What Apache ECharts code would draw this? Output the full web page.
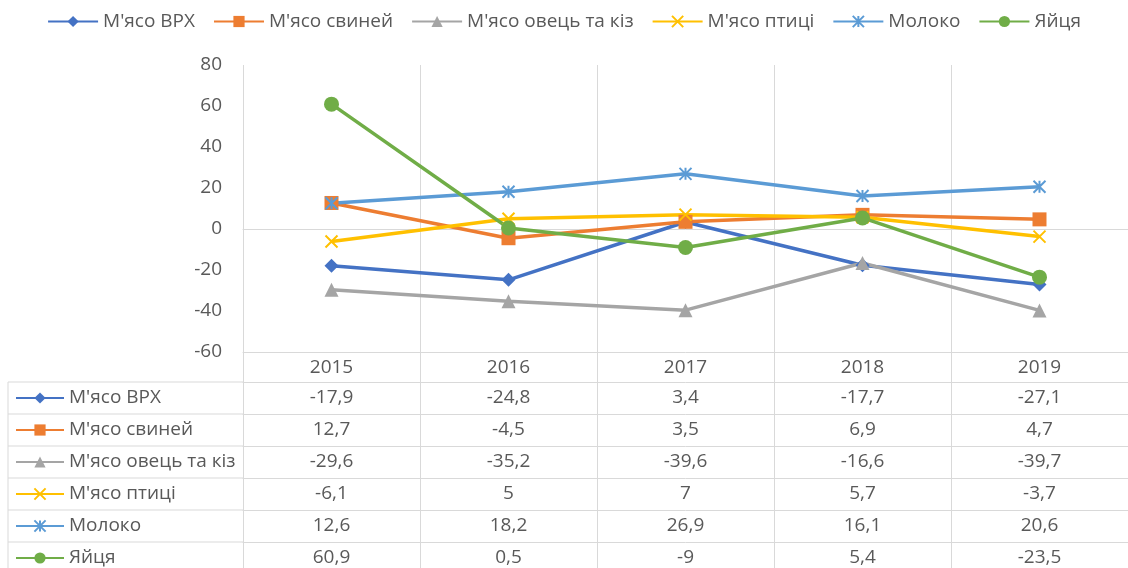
<!DOCTYPE html>
<html>
<head>
<meta charset="utf-8">
<script src="https://cdn.jsdelivr.net/npm/echarts@6/dist/echarts.min.js"></script>
<style>
  html, body { margin: 0; padding: 0; background: #fff; }
  #chart { width: 1128px; height: 568px; }
</style>
</head>
<body>
<div id="chart"></div>
<script>
// дані з діаграми
var years = ["2015", "2016", "2017", "2018", "2019"];
var seriesNames = ["М'ясо ВРХ", "М'ясо свиней", "М'ясо овець та кіз", "М'ясо птиці", "Молоко", "Яйця"];
var beef    = [-17.9, -24.8, 3.4, -17.7, -27.1];
var pork    = [12.7, -4.5, 3.5, 6.9, 4.7];
var sheep   = [-29.6, -35.2, -39.6, -16.6, -39.7];
var poultry = [-6.1, 5, 7, 5.7, -3.7];
var milk    = [12.6, 18.2, 26.9, 16.1, 20.6];
var eggs    = [60.9, 0.5, -9, 5.4, -23.5];
var yTicks  = { min: -60, max: 80, interval: 20 };

var allValues = [beef, pork, sheep, poultry, milk, eggs];
var colors = ["#4472C4", "#ED7D31", "#A5A5A5", "#FFC000", "#5B9BD5", "#70AD47"];
var symbols = [
    "diamond",
    "rect",
    "triangle",
    "path://M0,0L10,10M10,0L0,10",
    "path://M5,0L5,10M0,0L10,10M10,0L0,10",
    "circle"
];
var symbolSizes = [14, 14, 14, 12, 12, 15];

var FONT = "Open Sans";
var TXT = "#595959";
var LINE = "#d9d9d9";

// розмітка
var plotLeft = 243, plotTop = 65, plotBottomY = 352, plotRight = 1132;
var tableLeft = 8, yearRowH = 30, rowH = 32;

var chartDom = document.getElementById("chart");
var myChart = echarts.init(chartDom);

function fmt(v) {
    return String(v).replace(".", ",");
}

var series = seriesNames.map(function (name, i) {
    var isStroke = i === 3 || i === 4;
    return {
        name: name,
        type: "line",
        xAxisIndex: 0,
        yAxisIndex: 0,
        data: allValues[i],
        symbol: symbols[i],
        symbolSize: symbolSizes[i],
        showAllSymbol: true,
        lineStyle: { color: colors[i], width: 3.5 },
        itemStyle: isStroke
            ? { color: colors[i], borderColor: colors[i], borderWidth: 2 }
            : { color: colors[i], borderWidth: 0 },
        emphasis: { disabled: true },
        z: 3
    };
});

// осі рядків таблиці
var rowAxes = allValues.map(function (vals, k) {
    return {
        type: "category",
        gridIndex: 0,
        position: "bottom",
        offset: yearRowH + rowH * k,
        data: vals.map(fmt),
        boundaryGap: true,
        axisLine: { show: true, onZero: false, lineStyle: { color: LINE, width: 1 } },
        axisTick: { show: false },
        splitLine: { show: false },
        axisLabel: { margin: 6, fontFamily: FONT, fontSize: 19, color: TXT, interval: 0 }
    };
});

var xAxes = [
    {
        type: "category",
        gridIndex: 0,
        data: years,
        boundaryGap: true,
        position: "bottom",
        axisLine: { show: true, onZero: false, lineStyle: { color: LINE, width: 1 } },
        axisTick: { show: false },
        splitLine: { show: true, lineStyle: { color: LINE, width: 1 } },
        axisLabel: { margin: 6, fontFamily: FONT, fontSize: 19, color: TXT, interval: 0 }
    },
    {
        type: "category",
        gridIndex: 0,
        data: years,
        boundaryGap: true,
        position: "bottom",
        axisLine: { show: true, onZero: true, lineStyle: { color: LINE, width: 1 } },
        axisTick: { show: false },
        axisLabel: { show: false },
        splitLine: { show: false }
    },
    {
        type: "category",
        gridIndex: 1,
        data: years,
        boundaryGap: true,
        axisLine: { show: false },
        axisTick: { show: false },
        axisLabel: { show: false },
        splitLine: { show: true, lineStyle: { color: LINE, width: 1 } }
    }
].concat(rowAxes);

// рамка лівого стовпця таблиці
var tableGraphics = [];
var firstRowY = plotBottomY + yearRowH;
for (var k = 0; k < allValues.length; k++) {
    tableGraphics.push({
        type: "line",
        shape: { x1: tableLeft, y1: firstRowY + rowH * k, x2: plotLeft, y2: firstRowY + rowH * k },
        style: { stroke: LINE, lineWidth: 1 },
        silent: true
    });
}
tableGraphics.push({
    type: "line",
    shape: { x1: tableLeft, y1: firstRowY, x2: tableLeft, y2: 600 },
    style: { stroke: LINE, lineWidth: 1 },
    silent: true
});

var option = {
    animation: false,
    backgroundColor: "#fff",
    color: colors,
    legend: [
        {
            data: seriesNames,
            top: 7,
            left: "center",
            itemWidth: 50,
            itemHeight: 14,
            itemGap: 18,
            textStyle: { fontFamily: FONT, fontSize: 19, color: TXT },
            selectedMode: false
        },
        {
            data: seriesNames,
            orient: "vertical",
            left: 10,
            top: firstRowY + 1,
            height: 260,
            itemWidth: 48,
            itemHeight: 14,
            itemGap: 12,
            textStyle: { fontFamily: FONT, fontSize: 19, color: TXT, lineHeight: 20 },
            selectedMode: false
        }
    ],
    grid: [
        { left: plotLeft, top: plotTop, right: 1128 - plotRight, bottom: 568 - plotBottomY, containLabel: false },
        { left: plotLeft, top: plotBottomY, right: 1128 - plotRight, bottom: -40, containLabel: false }
    ],
    xAxis: xAxes,
    yAxis: [
        {
            type: "value",
            gridIndex: 0,
            min: yTicks.min,
            max: yTicks.max,
            interval: yTicks.interval,
            axisLine: { show: false },
            axisTick: { show: false },
            splitLine: { show: false },
            axisLabel: { margin: 21, fontFamily: FONT, fontSize: 19, color: TXT }
        },
        {
            type: "value",
            gridIndex: 1,
            show: false
        }
    ],
    graphic: tableGraphics,
    series: series
};

myChart.setOption(option);
</script>
</body>
</html>
